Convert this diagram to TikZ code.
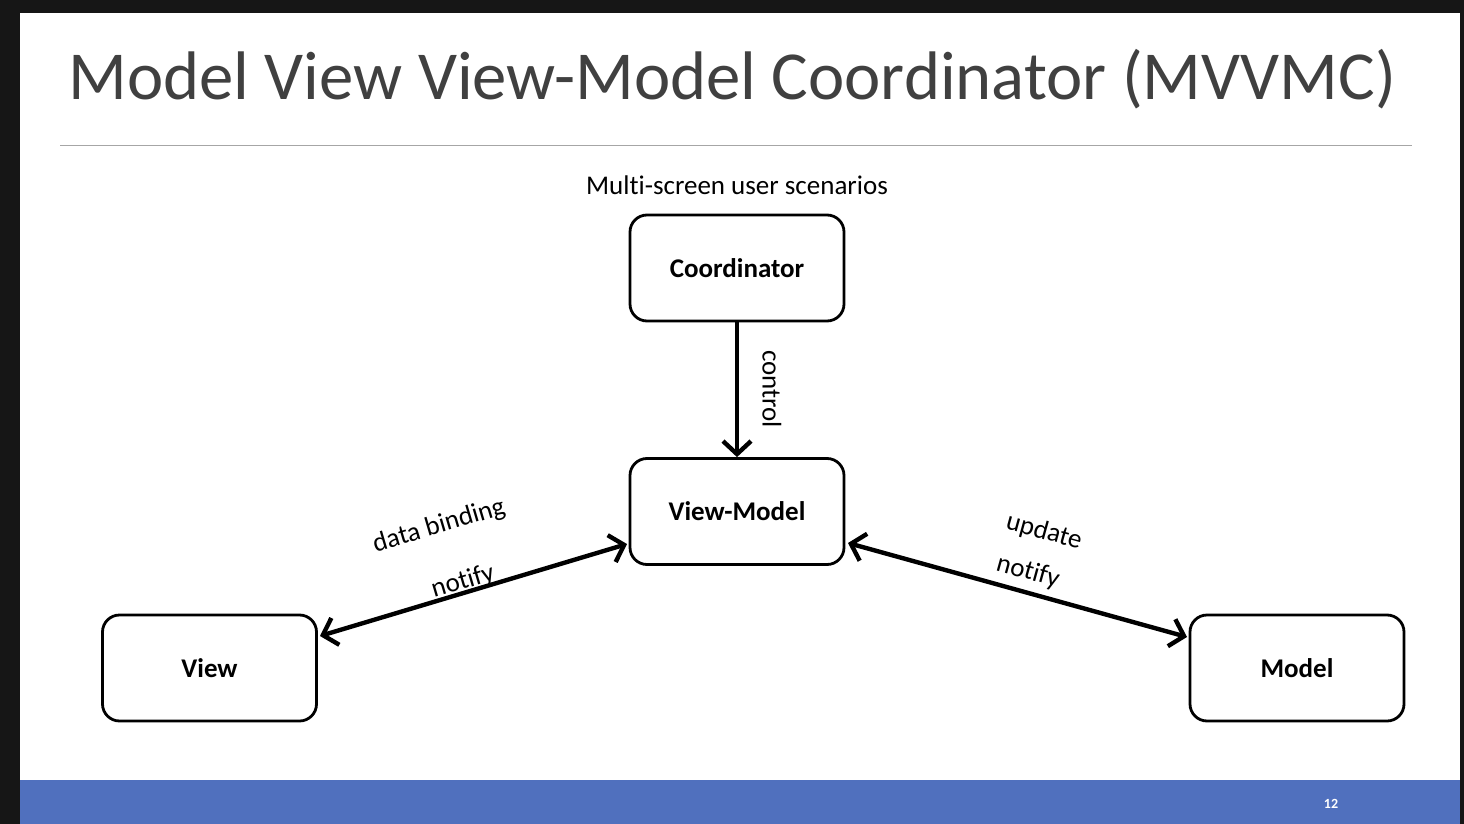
\documentclass[tikz,border=0pt]{standalone}
\usepackage{fontspec}
\setmainfont{Carlito}[Ligatures={NoCommon}]
\usetikzlibrary{arrows.meta}
\definecolor{frame}{HTML}{161616}
\definecolor{barblue}{HTML}{5070BE}
\definecolor{titlegray}{HTML}{404040}
\tikzset{
  box/.style={draw=black, line width=2.8pt, rounded corners=17pt, minimum width=214pt, minimum height=106pt, font=\fontsize{27}{30}\selectfont\bfseries, inner sep=0pt},
  conn/.style={line width=4.4pt, -{Straight Barb[length=13pt,width=28pt,line width=4.4pt]}},
  dconn/.style={line width=4.4pt, {Straight Barb[length=13pt,width=28pt,line width=4.4pt]}-{Straight Barb[length=13pt,width=28pt,line width=4.4pt]}},
  lab/.style={font=\fontsize{27}{30}\selectfont, inner sep=0pt}
}
\begin{document}
\begin{tikzpicture}[x=1pt,y=-1pt]
\useasboundingbox (0,0) rectangle (1464,824);
\fill[frame] (0,0) rectangle (1464,824);
\fill[white] (20,13) rectangle (1460,780);
\fill[barblue] (20,780) rectangle (1460,824);
\node[font=\fontsize{68.7}{74}\selectfont, text=titlegray, anchor=base, inner sep=0pt] (title) at (732.5,100) {Model View View-Model Coordinator (MVVMC)};
\draw[gray!70, line width=1pt] (60,146) -- (1412,146);
\node[lab, anchor=base] (sub) at (737,194) {Multi-screen user scenarios};
\node[box] (coord) at (737,268) {Coordinator};
\node[box] (vm) at (737,511.5) {View-Model};
\node[box] (view) at (209.5,668) {View};
\node[box] (model) at (1297,668) {Model};
\draw[conn] (coord.south) -- (vm.north);
\node[lab, rotate=-90] (ctl) at (772,389) {control};
\coordinate (vl) at (320,636);
\coordinate (vml) at (627,544);
\coordinate (vmr) at (848,543);
\coordinate (mr) at (1187,637);
\draw[dconn] (vl) -- (vml);
\draw[dconn] (vmr) -- (mr);
\node[lab, rotate=16.5] (db) at (439,526) {data binding};
\node[lab, rotate=16.5] (n1) at (463,582) {notify};
\node[lab, rotate=-15.5] (up) at (1044,532) {update};
\node[lab, rotate=-15.5] (n2) at (1028,572) {notify};
\node[font=\fontsize{14}{15}\selectfont\bfseries, text=white, inner sep=0pt] (pg) at (1331,804) {12};
\end{tikzpicture}
\end{document}
